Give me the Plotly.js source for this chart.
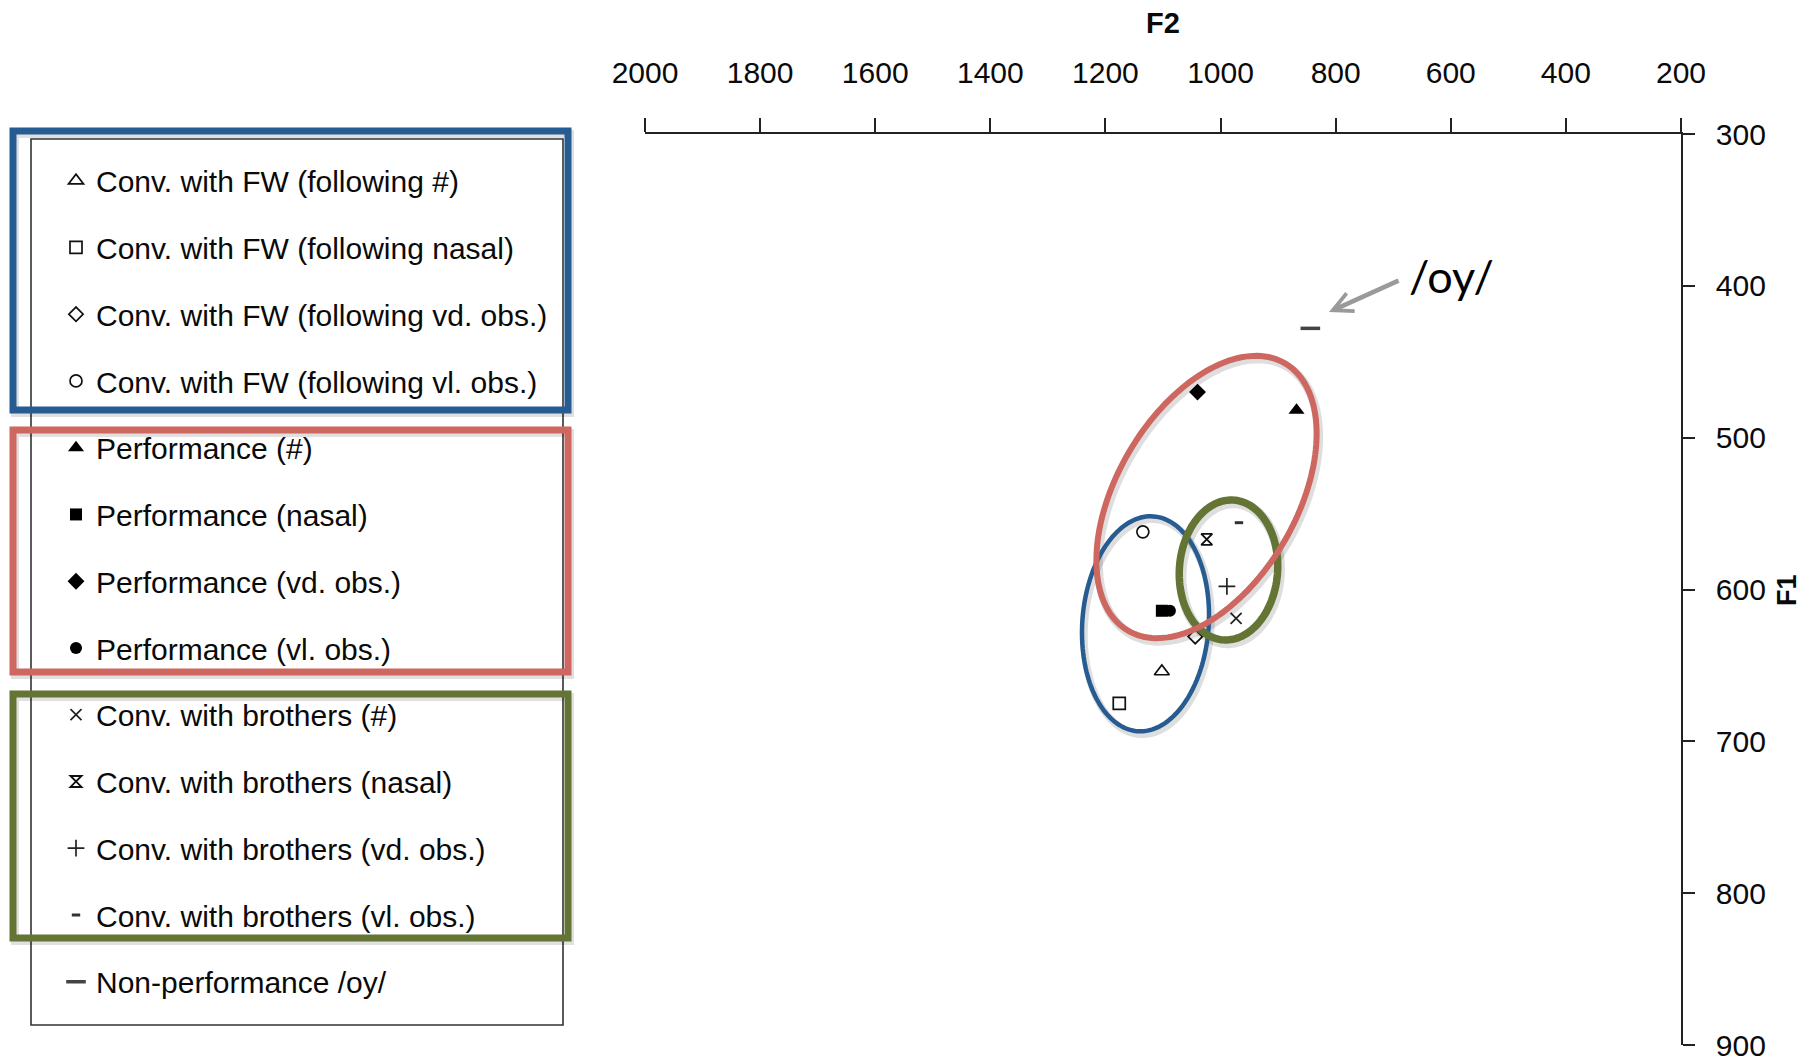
<!DOCTYPE html>
<html>
<head>
<meta charset="utf-8">
<script src="https://cdn.plot.ly/plotly-3.0.1.min.js"></script>
<style>
html, body { margin: 0; padding: 0; background: #ffffff; }
#chart { width: 1811px; height: 1061px; }
</style>
</head>
<body>
<div id="chart"></div>
<script>
// ---------------- data ----------------
const categories = [
  'Conv. with FW (following #)',
  'Conv. with FW (following nasal)',
  'Conv. with FW (following vd. obs.)',
  'Conv. with FW (following vl. obs.)',
  'Performance (#)',
  'Performance (nasal)',
  'Performance (vd. obs.)',
  'Performance (vl. obs.)',
  'Conv. with brothers (#)',
  'Conv. with brothers (nasal)',
  'Conv. with brothers (vd. obs.)',
  'Conv. with brothers (vl. obs.)',
  'Non-performance /oy/'
];
const f2Values = [1102, 1176, 1044, 1135, 868, 1102, 1040, 1088, 973, 1024, 989, 968, 844];
const f1Values = [654, 675, 631, 562, 482, 614, 470, 614, 619, 567, 598, 556, 428];

const f2TickValues = [2000, 1800, 1600, 1400, 1200, 1000, 800, 600, 400, 200];
const f2TickLabels = ['2000', '1800', '1600', '1400', '1200', '1000', '800', '600', '400', '200'];
const f1TickValues = [300, 400, 500, 600, 700, 800, 900];
const f1TickLabels = ['300', '400', '500', '600', '700', '800', '900'];

// ---------------- styles ----------------
const markerSymbols = ['triangle-up-open', 'square-open', 'diamond-open', 'circle-open',
  'triangle-up', 'square', 'diamond', 'circle',
  'x-thin-open', 'hourglass-open', 'cross-thin-open', 'line-ew-open', 'line-ew-open'];
const markerSizes = [13, 12, 11, 12, 14, 12, 13, 12, 11, 11, 12, 6, 14];
const markerLineWidths = [1.7, 1.7, 1.7, 1.7, 0, 0, 0, 0, 1.7, 1.9, 1.7, 3, 3.5];
const markerColors = ['#111', '#111', '#111', '#111', '#000', '#000', '#000', '#000', '#222', '#111', '#222', '#333', '#444'];

const W = 1811, H = 1061, L = 645, R = 1681, T = 134, B = 1045;
const X0 = 2000, X1 = 200, Y0 = 300, Y1 = 900;
const px2x = px => X0 + (px - L) / (R - L) * (X1 - X0);
const py2y = py => Y0 + (py - T) / (B - T) * (Y1 - Y0);
const px2p = px => (px - L) / (R - L);
const py2p = py => (B - py) / (B - T);

const FONT = 'Liberation Sans, Arial, Helvetica, sans-serif';
const BLUE = 'rgb(38,92,145)', RED = 'rgb(205,103,95)', GREEN = 'rgb(99,116,52)';

function ellipsePath(cx, cy, a, b, thetaDeg, dx, dy) {
  const th = thetaDeg * Math.PI / 180;
  const ux = Math.cos(th), uy = -Math.sin(th);
  const vx = Math.sin(th), vy = Math.cos(th);
  let s = '';
  const n = 160;
  for (let i = 0; i <= n; i++) {
    const t = 2 * Math.PI * i / n;
    const px = cx + dx + a * Math.cos(t) * ux + b * Math.sin(t) * vx;
    const py = cy + dy + a * Math.cos(t) * uy + b * Math.sin(t) * vy;
    s += (i === 0 ? 'M' : 'L') + px2x(px).toFixed(3) + ',' + py2y(py).toFixed(3);
  }
  return s + 'Z';
}

const ellipses = [
  { cx: 1145.5, cy: 623.8, a: 107.7, b: 63.2, th: 85.8, color: BLUE, w: 4.5 },
  { cx: 1228.5, cy: 570.0, a: 70.1, b: 49.1, th: 85.5, color: GREEN, w: 7.5 },
  { cx: 1206.5, cy: 497.0, a: 155.0, b: 89.6, th: 59.6, color: RED, w: 6 }
];

const shapes = [];
ellipses.forEach(e => shapes.push({ type: 'path', xref: 'x', yref: 'y', layer: 'above',
  path: ellipsePath(e.cx, e.cy, e.a, e.b, e.th, 2, 3), line: { color: 'rgba(0,0,0,0.13)', width: e.w + 3 } }));
ellipses.forEach(e => shapes.push({ type: 'path', xref: 'x', yref: 'y', layer: 'above',
  path: ellipsePath(e.cx, e.cy, e.a, e.b, e.th, 0, 0), line: { color: e.color, width: e.w } }));

// legend frame and coloured group boxes
function rect(x0, y0, x1, y1, color, width) {
  return { type: 'rect', xref: 'paper', yref: 'paper', layer: 'above',
    x0: px2p(x0), x1: px2p(x1), y0: py2p(y0), y1: py2p(y1),
    line: { color: color, width: width }, fillcolor: 'rgba(0,0,0,0)' };
}
shapes.push(rect(31, 139, 563, 1025, '#333', 1.6));
[[13, 131, 568, 410, BLUE], [13, 430, 568, 672, RED], [13, 694, 568, 938, GREEN]].forEach(r => {
  shapes.push(rect(r[0] + 2, r[1] + 3, r[2] + 2, r[3] + 3, 'rgba(0,0,0,0.12)', 8));
  shapes.push(rect(r[0], r[1], r[2], r[3], r[4], 7));
});

// ---------------- traces ----------------
const traces = categories.map((name, i) => ({
  type: 'scatter', mode: 'markers', name: name,
  x: [f2Values[i]], y: [f1Values[i]],
  xaxis: 'x', yaxis: 'y',
  legendgroup: 'g' + i,
  marker: {
    symbol: markerSymbols[i], size: markerSizes[i], color: markerColors[i],
    line: { color: markerColors[i], width: markerLineWidths[i] }
  },
  hoverinfo: 'name+x+y'
}));

const axisCommon = {
  showgrid: false, zeroline: false, showline: true, linecolor: '#222', linewidth: 1.6,
  tickcolor: '#222', tickwidth: 1.6, fixedrange: true
};

const layout = {
  width: W, height: H,
  margin: { l: L, r: W - R, t: T, b: H - B, pad: 0 },
  paper_bgcolor: '#ffffff', plot_bgcolor: '#ffffff',
  font: { family: FONT, color: '#0a0a0a' },
  showlegend: true,
  legend: {
    x: px2p(56), y: py2p(154.7), xanchor: 'left', yanchor: 'top',
    bgcolor: 'rgba(0,0,0,0)', borderwidth: 0,
    font: { family: FONT, size: 30, color: '#0a0a0a' },
    traceorder: 'grouped', tracegroupgap: 24.75, itemsizing: 'trace'
  },
  xaxis: Object.assign({}, axisCommon, {
    side: 'top', range: [X0, X1], autorange: false,
    tickmode: 'array', tickvals: f2TickValues, ticktext: f2TickLabels,
    ticks: 'outside', ticklen: 14, ticklabelstandoff: 23,
    tickfont: { family: FONT, size: 30, color: '#0a0a0a' }, anchor: 'y'
  }),
  xaxis2: Object.assign({}, axisCommon, {
    side: 'top', overlaying: 'x', anchor: 'y', range: [X0, X1], autorange: false,
    tickmode: 'array', tickvals: f2TickValues, ticks: 'inside', ticklen: 12, showticklabels: false
  }),
  yaxis: Object.assign({}, axisCommon, {
    side: 'right', range: [Y1, Y0], autorange: false,
    tickmode: 'array', tickvals: f1TickValues, ticktext: f1TickLabels,
    ticks: 'outside', ticklen: 12, ticklabelstandoff: 15, ticklabeloverflow: 'allow',
    tickfont: { family: FONT, size: 30, color: '#0a0a0a' }, anchor: 'x'
  }),
  yaxis2: Object.assign({}, axisCommon, {
    side: 'right', overlaying: 'y', anchor: 'x', range: [Y1, Y0], autorange: false,
    tickmode: 'array', tickvals: f1TickValues, ticks: 'inside', ticklen: 12, showticklabels: false
  }),
  shapes: shapes,
  annotations: [
    { text: '<b>F2</b>', xref: 'paper', yref: 'paper', x: px2p(1163), y: py2p(23),
      xanchor: 'center', yanchor: 'middle', showarrow: false,
      font: { family: FONT, size: 29, color: '#0a0a0a' } },
    { text: '<b>F1</b>', xref: 'paper', yref: 'paper', x: px2p(1787), y: py2p(590),
      xanchor: 'center', yanchor: 'middle', showarrow: false, textangle: -90,
      font: { family: FONT, size: 27, color: '#0a0a0a' } },
    { text: '/oy/', xref: 'paper', yref: 'paper', x: px2p(1451), y: py2p(276),
      xanchor: 'center', yanchor: 'middle', showarrow: false,
      font: { family: 'Lato, Open Sans, sans-serif', size: 45, color: '#000' } },
    { text: '', xref: 'x', yref: 'y', x: px2x(1329), y: py2y(312),
      showarrow: true, ax: 71, ay: -32, axref: 'pixel', ayref: 'pixel',
      arrowhead: 5, arrowsize: 0.85, arrowwidth: 4.5, arrowcolor: '#9a9a9a', standoff: 0 }
  ]
};

Plotly.newPlot('chart', traces, layout, { displayModeBar: false, responsive: false });
</script>
</body>
</html>
